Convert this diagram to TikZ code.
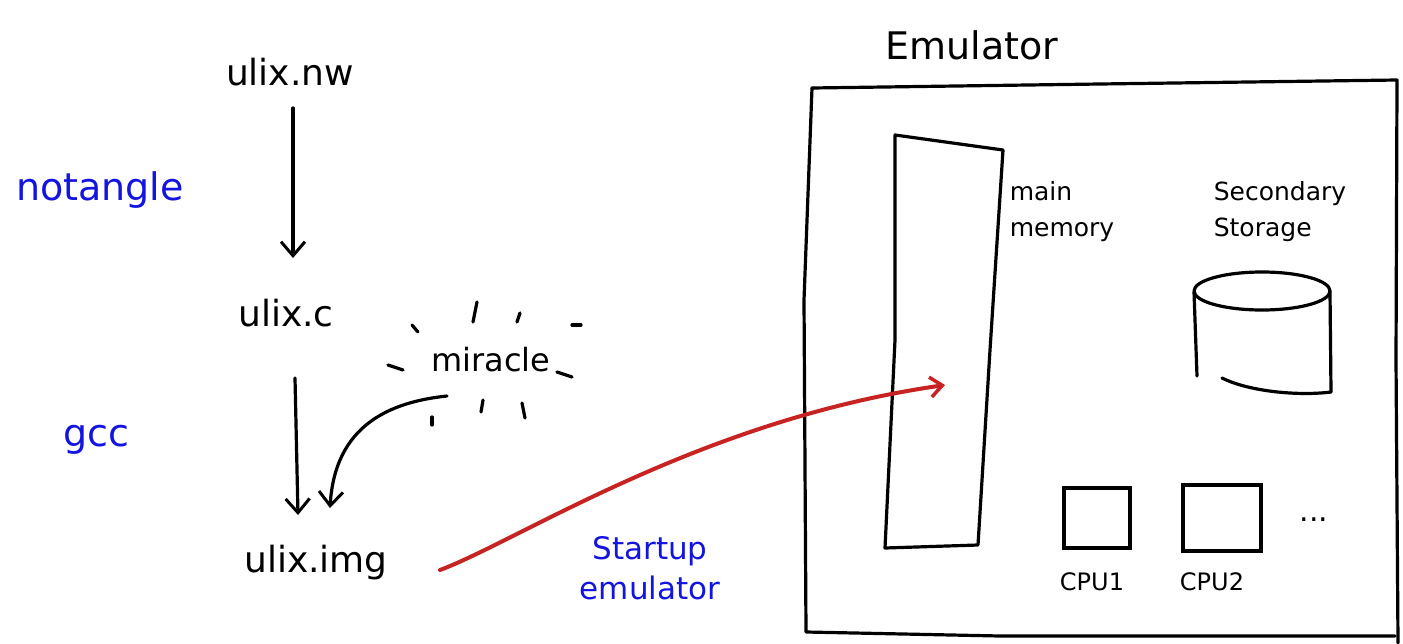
\documentclass[tikz,border=0pt]{standalone}
\usepackage{fontspec}
\setmainfont{DejaVu Sans}
\usetikzlibrary{arrows.meta}
\definecolor{penblue}{RGB}{20,20,225}
\definecolor{penred}{RGB}{200,35,35}
\tikzset{
  pen/.style={draw=black, line width=3.2pt, line cap=round, line join=round},
  bluetxt/.style={text=penblue, font=\fontsize{38}{42}\selectfont},
  bluesmall/.style={text=penblue, font=\fontsize{31}{40}\selectfont},
  blacktxt/.style={text=black, font=\fontsize{36}{40}\selectfont},
  smalltxt/.style={text=black, font=\fontsize{25}{36}\selectfont, align=left},
  barb/.style={-{Straight Barb[length=14pt,width=24pt,line width=3pt]}},
}
\begin{document}
\begin{tikzpicture}[x=1pt,y=-1pt]
\useasboundingbox (0,0) rectangle (1403,643);
% left chain
\node[blacktxt] (nw) at (290,72) {ulix.nw};
\node[blacktxt] (c) at (286,313) {ulix.c};
\node[blacktxt] (img) at (316,563) {ulix.img};
\node[bluetxt] (notangle) at (100,190) {notangle};
\node[bluetxt] (gcc) at (96,440) {gcc};
\coordinate (a1) at (293,108);
\coordinate (a2) at (293,258);
\coordinate (b1) at (295,378);
\coordinate (b2) at (298,515);
\draw[pen,barb] (a1) -- (a2);
\draw[pen,barb] (b1) -- (b2);
% miracle
\node[blacktxt, font=\fontsize{32}{36}\selectfont] (mir) at (491,360) {miracle};
\foreach \a/\b/\c/\d in {477/302/473/322, 520/313/517/322, 572/325/581/325, 412/325/418/332, 388/365/403/370, 557/372/572/377, 483/400/481/412, 522/403/525/418, 432/417/432/425}
  \draw[pen] (\a,\b) -- (\c,\d);
\coordinate (ms) at (447,396);
\coordinate (me) at (330,508);
\draw[pen,barb] (ms) .. controls (390,402) and (335,425) .. (me);
% emulator box
\node[blacktxt, font=\fontsize{38}{42}\selectfont] (emu) at (972,45) {Emulator};
\draw[pen] (812,88) -- (1100,84) -- (1397,80) -- (1396,360) -- (1398,643);
\draw[pen] (812,88) -- (804,300) -- (806,632) -- (1000,636) -- (1395,636);
% main memory
\draw[pen] (895,135) -- (1003,150) -- (990,350) -- (978,545) -- (885,548) -- (895,340) -- cycle;
\node[smalltxt] (mm) at (1062,212) {main\\memory};
\node[smalltxt] (ss) at (1280,212) {Secondary\\Storage};
% secondary storage
\draw[pen] (1262,291) ellipse [x radius=68, y radius=19];
\draw[pen] (1194,292) -- (1197,376);
\draw[pen] (1330,292) -- (1331,392);
\draw[pen] (1222,378) .. controls (1250,392) and (1300,396) .. (1331,392);
% CPUs
\node[draw=black, line width=3.2pt, minimum width=66pt, minimum height=60pt] (cpu1) at (1097,518) {};
\node[draw=black, line width=3.2pt, minimum width=78pt, minimum height=66pt] (cpu2) at (1222,518) {};
\node[smalltxt, font=\fontsize{24}{28}\selectfont] (l1) at (1092,582) {CPU1};
\node[smalltxt, font=\fontsize{24}{28}\selectfont] (l2) at (1212,582) {CPU2};
\node[blacktxt, font=\fontsize{30}{34}\selectfont] (dots) at (1314,520) {...};
% startup
\node[bluesmall, align=center] (start) at (650,568) {Startup\\emulator};
\coordinate (rs) at (440,570);
\coordinate (memin) at (945,385);
\draw[draw=penred, line width=4pt, line cap=round, -{Straight Barb[length=12pt,width=20pt,line width=3.5pt]}] (rs) .. controls (520,540) and (700,420) .. (memin);
\end{tikzpicture}
\end{document}
